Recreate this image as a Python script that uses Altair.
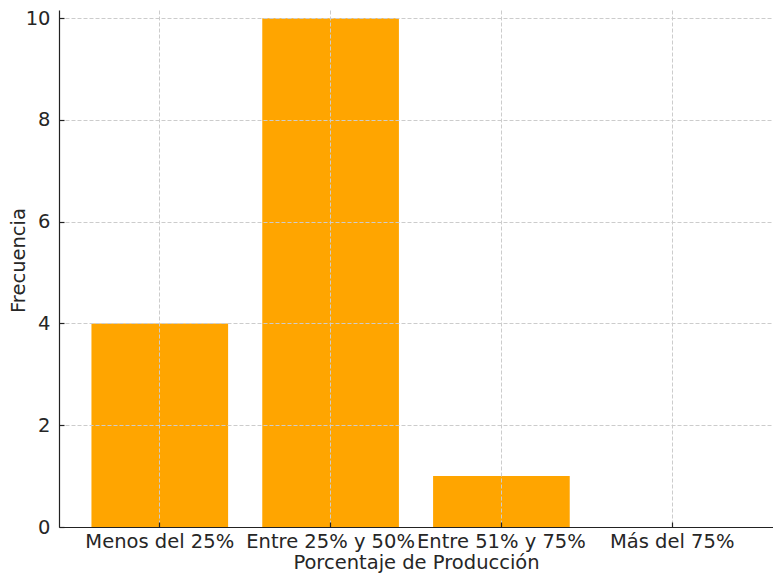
import altair as alt
import pandas as pd

categories = ["Menos del 25%", "Entre 25% y 50%", "Entre 51% y 75%", "Más del 75%"]
frequencies = [4, 10, 1, 0]
y_ticks = [0, 2, 4, 6, 8, 10]

df = pd.DataFrame({"cat": categories, "freq": frequencies})

FONT = "DejaVu Sans"
TXT = "#262626"
AX = "#222222"
FS = 19.5

xscale = alt.Scale(domain=categories, paddingInner=0.2, paddingOuter=0.19, align=0.5)
yscale = alt.Scale(domain=[0, 10.16], nice=False, zero=True)

common = dict(labelFont=FONT, labelFontSize=FS, labelColor=TXT,
              titleFont=FONT, titleFontSize=FS, titleColor=TXT, titleFontWeight="normal")

bars = alt.Chart(df).mark_bar(color="#FFA500").encode(
    x=alt.X("cat:N", sort=categories, scale=xscale,
            axis=alt.Axis(title="Porcentaje de Producción", orient="bottom", labelAngle=0,
                          grid=True, gridDash=[4, 2], gridColor="#cccccc", gridWidth=1,
                          ticks=False, domainColor=AX, domainWidth=1.2, labelPadding=5,
                          titlePadding=3, labelOverlap=False, labelLimit=400,
                          bandPosition=0.5, zindex=1, **common)),
    y=alt.Y("freq:Q", scale=yscale,
            axis=alt.Axis(title="Frecuencia", orient="left", values=y_ticks,
                          grid=True, gridDash=[4, 2], gridColor="#cccccc", gridWidth=1,
                          ticks=False, domainColor=AX, domainWidth=1.2, labelPadding=9,
                          titleX=-35, titleY=250, titleAngle=270, titleAlign="center",
                          titleBaseline="alphabetic", zindex=1, **common)),
)

tick_layer = alt.Chart(df).mark_bar(opacity=0).encode(
    x=alt.X("cat:N", sort=categories, scale=xscale,
            axis=alt.Axis(title="", orient="bottom", labels=False, domain=False, grid=False,
                          ticks=True, tickSize=5, tickColor=AX, tickWidth=1.2, offset=-5,
                          bandPosition=0.5, zindex=1)),
    y=alt.Y("freq:Q", scale=yscale,
            axis=alt.Axis(title="", orient="left", values=y_ticks, labels=False, domain=False,
                          grid=False, ticks=True, tickSize=5, tickColor=AX, tickWidth=1.2,
                          offset=-5, zindex=1)),
)

chart = alt.layer(bars, tick_layer).resolve_axis(
    x="independent", y="independent"
).properties(
    width=714, height=517,
    autosize=alt.AutoSizeParams(type="none"),
    padding={"left": 51, "top": 2, "right": 0, "bottom": 46},
    background="white",
).configure_view(strokeWidth=0)

chart.save("out.html", embed_options={"renderer": "svg", "actions": False})
